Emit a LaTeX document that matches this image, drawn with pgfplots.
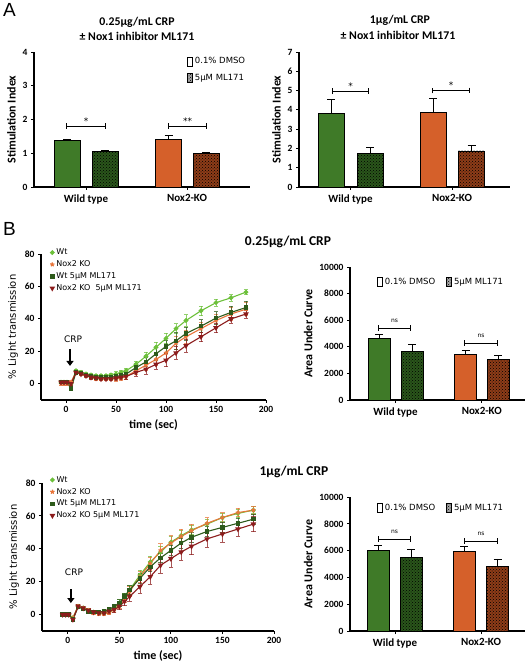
\documentclass[border=0pt]{standalone}
\usepackage{fontspec}
\setmainfont{Carlito}
\newfontfamily\dejavu{DejaVu Sans}
\newfontfamily\arialf{Liberation Sans}
\usepackage{pgfplots}
\pgfplotsset{compat=1.18}
\usepackage{pgfplotstable}
\usetikzlibrary{patterns,arrows.meta,plotmarks}

\definecolor{grnbar}{HTML}{3F7A28}
\definecolor{orgbar}{HTML}{D5602A}
\definecolor{grnh}{HTML}{2A561B}
\definecolor{orgh}{HTML}{8E3C18}
\definecolor{cwt}{HTML}{6CC03A}
\definecolor{cko}{HTML}{E8753A}
\definecolor{cwm}{HTML}{2D5A1B}
\definecolor{ckm}{HTML}{8C1C1C}

\pgfplotsset{
 base/.style={scale only axis, anchor=south west, axis lines=left,
   axis line style={-, line width=1.1pt}, tick align=outside,
   major tick length=3pt, tick style={black, line width=0.9pt},
   ticklabel style={font=\bfseries\fontsize{9.5}{10}\selectfont},
   /pgf/number format/assume math mode=true, /pgf/number format/1000 sep={},
   scaled y ticks=false,
   label style={font=\bfseries\fontsize{12}{13}\selectfont}, clip=false},
 barax/.style={base, x tick label style={font=\bfseries\fontsize{11}{12}\selectfont},
   major x tick style={line width=0.6pt}, x tick label style={yshift=-1pt}},
 bar/.style={ybar, bar shift=0pt, draw=black, line width=0.8pt,
   /pgfplots/error bars/y dir=plus, /pgfplots/error bars/y explicit,
   /pgfplots/error bars/error bar style={black, line width=0.8pt},
   /pgfplots/error bars/error mark options={black, rotate=90, mark size=4pt, line width=0.8pt}},
 hatch/.style={postaction={pattern=crosshatch dots, pattern color=black}},
 boxleg/.style={legend image code/.code={\draw[##1, line width=0.8pt] (0pt,-4.5pt) rectangle (5pt,4.5pt);},
   legend cell align=left,
   legend style={draw=none, fill=none, inner sep=0pt, font=\dejavu\fontsize{8.5}{10}\selectfont}},
 tc/.style={line width=1.1pt,
   /pgfplots/error bars/y dir=both, /pgfplots/error bars/y explicit,
   /pgfplots/error bars/error bar style={line width=0.7pt, opacity=0.75},
   /pgfplots/error bars/error mark options={rotate=90, mark size=2.2pt, line width=0.7pt, opacity=0.75}},
 tcax/.style={base, xmin=-25, xmax=200, ymin=-10, ymax=80,
   xtick={0,50,100,150,200}, ytick={0,20,40,60,80},
   xlabel={time (sec)},
   ylabel={\% Light transmission},
   ylabel style={font=\dejavu\fontsize{10}{11}\selectfont},
   legend cell align=left,
   legend image code/.code={\draw[##1, only marks] plot coordinates {(3pt,0pt)};},
   legend style={draw=none, fill=none, inner sep=0pt, row sep=0.5pt, font=\dejavu\fontsize{8}{9}\selectfont}},
}

\pgfplotstableread{
t   wt  wte ko  koe wm   wme km  kme
-5  1   1   0   1   1    1   1   1
-2  1   1   0   1   1    1   1   1
1   1   1   0   1   1    1   1   1
5   0   1   1   1   -3   1   0   1
10  8   1   7   1   7    1   7   1
15  7   1   6   1   6.5  1   6   1
20  6   1   5   1   5.5  1   5   1
25  5.5 1   4   1   4.5  1   4   1
30  5   1   3   1   4    1   3.5 1
35  5   1   3   1   4    1   3   1
40  5   1   3   1   4    1   3   1
45  5.5 1   3   1   4    1   3   1
50  6   1.5 3   1.5 4.5  1.5 3.5 1.5
55  7   1.5 3.5 1.5 5    1.5 4   1.5
60  8   1.5 4.5 1.5 6    1.5 4.5 1.5
70  12  2   8   2   10   2.5 7   2.5
80  17  2.5 11.5 3  13.5 3   9   3
90  22.5 3  15  3.5 18.5 4   12  3
100 28  3   19  4   23   4   14.5 4
110 34  3   25  4   26.5 5   19  4
120 39  3.5 29  4   31   4   23.5 4
135 45  3   34  4   35.5 4   29  3
150 50  2   39  4   40.5 4   34.5 3
165 53  2   43  4   44   4   40  2.5
180 56.5 1.5 46 4   47   4   43  2.5
}\tabB

\pgfplotstableread{
t   wt  wte ko  koe wm   wme km  kme
-5  0   1   0   1   0    1   0   1
-2  0   1   0   1   0    1   0   1
1   0   1   0   1   0    1   0   1
5   -2  1   -2  1   -3   1   -3  1
10  5   1   5   1   4.5  1   5   1
15  4   1   4   1   3.5  1   4   1
20  2.5 1   2.5 1   2    1   2.5 1
25  1.5 1   1   1   1.5  1   1.5 1
30  1   1   0.5 1   1.5  1   1   1
35  1   1   0.5 1   2    1   1   1
40  2   1   1   1   3    1   2   1
45  4   1.5 3   1.5 5    1.5 3   1.5
50  7   2   6   2   7    2   5   2
55  11  2   10  2.5 11   2   8   2.5
60  15  2.5 14  3   15   2.5 11  3
70  24  3   23  3.5 22   3   17  4
80  32  3.5 31  4   29   3   23  4.5
90  38  3.5 39  4   34.5 3   30  5
100 44  3.5 43.5 4.5 39  3   34  5
110 48  3.5 47.5 4.5 43.5 3  38  5
120 51.5 3  51  4   47   3   41.5 5
135 55  3   55.5 3.5 50.5 3  46  5
150 59  2.5 59  3   53   3   49  5
165 61.5 2.5 62 2.5 55.5 3   52  4.5
180 63.5 2  63.5 2.5 58  3   55  4.5
}\tabC

\begin{document}
\begin{tikzpicture}[x=1pt,y=1pt]
\path (0,0) rectangle (527,667);

% ---------- labels ----------
\node[anchor=north west, inner sep=0pt] at (3,664) {\arialf\fontsize{19}{19}\selectfont A};
\node[anchor=north west, inner sep=0pt] at (3,445) {\arialf\fontsize{19}{19}\selectfont B};
\node[font=\bfseries\fontsize{11.8}{13}\selectfont] at (137,645) {0.25μg/mL CRP};
\node[font=\bfseries\fontsize{11.8}{13}\selectfont] at (137,631) {± Nox1 inhibitor ML171};
\node[font=\bfseries\fontsize{11.8}{13}\selectfont] at (400,647) {1μg/mL CRP};
\node[font=\bfseries\fontsize{11.8}{13}\selectfont] at (398,632) {± Nox1 inhibitor ML171};
\node[font=\bfseries\fontsize{13.5}{15}\selectfont] at (288,425) {0.25μg/mL CRP};
\node[font=\bfseries\fontsize{13.5}{15}\selectfont] at (294,195) {1μg/mL CRP};

% ---------- A left ----------
\begin{axis}[barax, boxleg, at={(34pt,480pt)}, width=216pt, height=135pt,
  xmin=0, xmax=216, ymin=0, ymax=4, ytick={0,1,2,3,4},
  xtick={52,153}, xticklabels={Wild type, Nox2-KO},
  ylabel={Stimulation Index},
  legend style={at={(0.708,0.975)}, anchor=north west, row sep=5pt}]
\addplot[bar, bar width=26, fill=grnbar, forget plot] coordinates {(33,1.37) +- (0,0.05)};
\addplot[bar, bar width=26, fill=grnh, hatch, forget plot] coordinates {(71,1.05) +- (0,0.03)};
\addplot[bar, bar width=26, fill=orgbar, forget plot] coordinates {(134.5,1.42) +- (0,0.11)};
\addplot[bar, bar width=26, fill=orgh, hatch, forget plot] coordinates {(172,0.99) +- (0,0.04)};
\addlegendimage{draw=black, fill=white}
\addlegendentry{0.1\% DMSO}
\addlegendimage{draw=black, fill=gray!70, postaction={pattern=crosshatch dots, pattern color=black}}
\addlegendentry{5μM ML171}
\draw[|-|, line width=0.7pt] (axis cs:32,1.81) -- (axis cs:72,1.81);
\node[font=\dejavu\fontsize{9}{9}\selectfont] at (axis cs:52,1.96) {*};
\draw[|-|, line width=0.7pt] (axis cs:134,1.81) -- (axis cs:173,1.81);
\node[font=\dejavu\fontsize{9}{9}\selectfont] at (axis cs:153.5,1.96) {**};
\end{axis}

% ---------- A right ----------
\begin{axis}[barax, at={(299pt,480pt)}, width=211pt, height=135pt,
  xmin=0, xmax=211, ymin=0, ymax=7, ytick={0,1,...,7},
  xtick={51.5,153}, xticklabels={Wild type, Nox2-KO},
  ylabel={Stimulation Index}]
\addplot[bar, bar width=26, fill=grnbar] coordinates {(32,3.80) +- (0,0.73)};
\addplot[bar, bar width=26, fill=grnh, hatch] coordinates {(71,1.75) +- (0,0.29)};
\addplot[bar, bar width=26, fill=orgbar] coordinates {(134,3.89) +- (0,0.69)};
\addplot[bar, bar width=26, fill=orgh, hatch] coordinates {(172.5,1.87) +- (0,0.29)};
\draw[|-|, line width=0.7pt] (axis cs:33,4.97) -- (axis cs:70,4.97);
\node[font=\dejavu\fontsize{9}{9}\selectfont] at (axis cs:51.5,5.25) {*};
\draw[|-|, line width=0.7pt] (axis cs:133,5.0) -- (axis cs:171,5.0);
\node[font=\dejavu\fontsize{9}{9}\selectfont] at (axis cs:152,5.28) {*};
\end{axis}

% ---------- B left (time course 0.25) ----------
\begin{axis}[tcax, at={(41pt,267pt)}, width=225pt, height=146pt,
  legend style={at={(0.04,1.05)}, anchor=north west}]
\addplot[tc, color=cwt, mark=*, mark size=1.8pt] table[x=t, y=wt, y error=wte] {\tabB};
\addlegendentry{Wt}
\addplot[tc, color=cko, mark=star, mark size=2.2pt, mark options={line width=1.2pt}] table[x=t, y=ko, y error=koe] {\tabB};
\addlegendentry{Nox2 KO}
\addplot[tc, color=cwm, mark=square*, mark size=1.7pt] table[x=t, y=wm, y error=wme] {\tabB};
\addlegendentry{Wt 5μM ML171}
\addplot[tc, color=ckm, mark=triangle*, mark size=2.2pt, mark options={rotate=180}] table[x=t, y=km, y error=kme] {\tabB};
\addlegendentry{Nox2 KO\ \ 5μM ML171}
\draw[-{Triangle[width=7pt,length=5pt]}, line width=1.3pt] (axis cs:4,21.5) -- (axis cs:4,11);
\node[font=\dejavu\fontsize{9}{10}\selectfont] at (axis cs:7,27.5) {CRP};
\end{axis}

% ---------- B right (AUC 0.25) ----------
\begin{axis}[barax, boxleg, at={(350pt,267pt)}, width=175pt, height=133pt,
  xmin=0, xmax=175, ymin=0, ymax=10000, ytick={0,2000,...,10000},
  xtick={45.5,131.75}, xticklabels={Wild type, Nox2-KO},
  ylabel={Area Under Curve},
  legend columns=2, legend style={at={(0.154,0.887)}, anchor=west,
    /tikz/every even column/.append style={column sep=9pt}}]
\addplot[bar, bar width=22, fill=grnbar, forget plot] coordinates {(29,4660) +- (0,300)};
\addplot[bar, bar width=22, fill=grnh, hatch, forget plot] coordinates {(62,3650) +- (0,550)};
\addplot[bar, bar width=22, fill=orgbar, forget plot] coordinates {(115.5,3450) +- (0,300)};
\addplot[bar, bar width=22, fill=orgh, hatch, forget plot] coordinates {(148,3070) +- (0,250)};
\addlegendimage{draw=black, fill=white}
\addlegendentry{0.1\% DMSO}
\addlegendimage{draw=black, fill=gray!70, postaction={pattern=crosshatch dots, pattern color=black}}
\addlegendentry{5μM ML171}
\draw[|-|, line width=0.6pt] (axis cs:28,5400) -- (axis cs:61,5400);
\node[font=\dejavu\fontsize{6}{6}\selectfont] at (axis cs:44.5,5950) {ns};
\draw[|-|, line width=0.6pt] (axis cs:114,4290) -- (axis cs:148,4290);
\node[font=\dejavu\fontsize{6}{6}\selectfont] at (axis cs:131,4850) {ns};
\end{axis}

% ---------- C left (time course 1) ----------
\begin{axis}[tcax, at={(42pt,36pt)}, width=232pt, height=148pt,
  legend style={at={(0.035,1.06)}, anchor=north west}]
\addplot[tc, color=cwt, mark=*, mark size=1.8pt] table[x=t, y=wt, y error=wte] {\tabC};
\addlegendentry{Wt}
\addplot[tc, color=cko, mark=star, mark size=2.2pt, mark options={line width=1.2pt}] table[x=t, y=ko, y error=koe] {\tabC};
\addlegendentry{Nox2 KO}
\addplot[tc, color=cwm, mark=square*, mark size=1.7pt] table[x=t, y=wm, y error=wme] {\tabC};
\addlegendentry{Wt 5μM ML171}
\addplot[tc, color=ckm, mark=triangle*, mark size=2.2pt, mark options={rotate=180}] table[x=t, y=km, y error=kme] {\tabC};
\addlegendentry{Nox2 KO 5μM ML171}
\draw[-{Triangle[width=7pt,length=5pt]}, line width=1.3pt] (axis cs:3,15.5) -- (axis cs:3,7);
\node[font=\dejavu\fontsize{9}{10}\selectfont] at (axis cs:6,25.5) {CRP};
\end{axis}

% ---------- C right (AUC 1) ----------
\begin{axis}[barax, boxleg, at={(350pt,36pt)}, width=175pt, height=134pt,
  xmin=0, xmax=175, ymin=0, ymax=10000, ytick={0,2000,...,10000},
  xtick={45,131}, xticklabels={Wild type, Nox2-KO},
  ylabel={Area Under Curve},
  legend columns=2, legend style={at={(0.154,0.918)}, anchor=west,
    /tikz/every even column/.append style={column sep=9pt}}]
\addplot[bar, bar width=22, fill=grnbar, forget plot] coordinates {(28,6000) +- (0,420)};
\addplot[bar, bar width=22, fill=grnh, hatch, forget plot] coordinates {(61,5500) +- (0,620)};
\addplot[bar, bar width=22, fill=orgbar, forget plot] coordinates {(114,5925) +- (0,380)};
\addplot[bar, bar width=22, fill=orgh, hatch, forget plot] coordinates {(147.5,4850) +- (0,530)};
\addlegendimage{draw=black, fill=white}
\addlegendentry{0.1\% DMSO}
\addlegendimage{draw=black, fill=gray!70, postaction={pattern=crosshatch dots, pattern color=black}}
\addlegendentry{5μM ML171}
\draw[|-|, line width=0.6pt] (axis cs:28,6870) -- (axis cs:61,6870);
\node[font=\dejavu\fontsize{6}{6}\selectfont] at (axis cs:44.5,7420) {ns};
\draw[|-|, line width=0.6pt] (axis cs:114,6720) -- (axis cs:148,6720);
\node[font=\dejavu\fontsize{6}{6}\selectfont] at (axis cs:131,7270) {ns};
\end{axis}
\end{tikzpicture}
\end{document}
